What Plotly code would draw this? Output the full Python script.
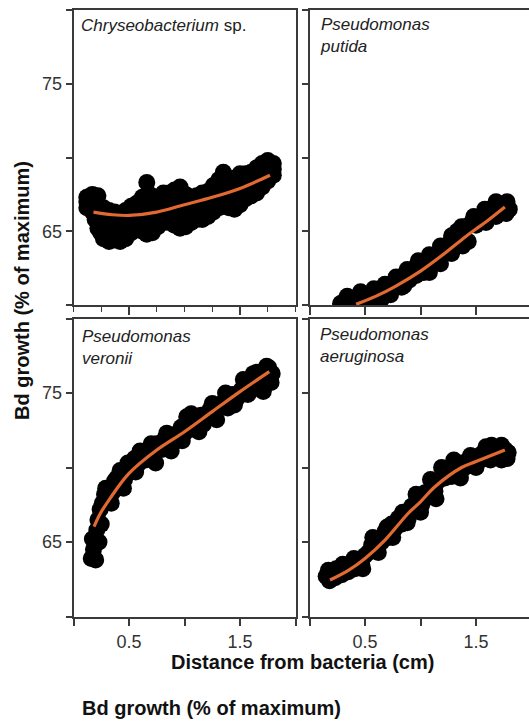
import plotly.graph_objects as go

# ---------------- data ----------------
# Chryseobacterium sp. (top-left)
chry_x = [0.12,0.12,0.12, 0.17,0.17,0.17, 0.22,0.22,0.22, 0.27,0.27,0.27, 0.32,0.32,0.32, 0.37,0.37,0.37,
          0.42,0.42,0.42, 0.47,0.47,0.47, 0.52,0.52,0.52, 0.57,0.57,0.57, 0.62,0.62,0.62, 0.66,0.66,0.66,
          0.71,0.71,0.71, 0.76,0.76,0.76, 0.81,0.81,0.81, 0.86,0.86,0.86, 0.91,0.91,0.91, 0.96,0.96,0.96,
          1.01,1.01,1.01, 1.06,1.06,1.06, 1.11,1.11,1.11, 1.16,1.16,1.16, 1.21,1.21,1.21, 1.26,1.26,1.26,
          1.31,1.31,1.31, 1.35,1.35,1.35, 1.40,1.40,1.40, 1.45,1.45,1.45, 1.50,1.50,1.50, 1.55,1.55,1.55,
          1.60,1.60,1.60, 1.65,1.65,1.65, 1.70,1.70,1.70, 1.75,1.75,1.75, 1.80,1.80,1.80,
          0.145,0.145, 0.195,0.195, 0.245,0.245, 0.295,0.295, 0.345,0.345, 0.395,0.395, 0.445,0.445,
          0.495,0.495, 0.545,0.545, 0.595,0.595, 0.64,0.64, 0.685,0.685, 0.735,0.735, 0.785,0.785,
          0.835,0.835, 0.885,0.885, 0.935,0.935, 0.985,0.985, 1.035,1.035, 1.085,1.085, 1.135,1.135,
          1.185,1.185, 1.235,1.235, 1.285,1.285, 1.33,1.33, 1.375,1.375, 1.425,1.425, 1.475,1.475,
          1.525,1.525, 1.575,1.575, 1.625,1.625, 1.675,1.675, 1.725,1.725, 1.775,1.775]
chry_y = [66.6,67.0,67.3, 66.3,66.9,67.5, 65.2,66.2,67.4, 64.5,65.5,66.6, 64.3,65.3,66.4, 64.4,65.4,66.3,
          64.3,65.3,66.2, 64.5,65.5,66.4, 64.9,65.8,66.7, 65.2,66.0,66.9, 65.0,66.0,67.3, 64.8,66.2,68.3,
          64.9,65.8,66.8, 65.3,66.2,67.3, 65.6,66.5,67.6, 65.6,66.6,67.6, 65.4,66.5,67.8, 65.2,66.4,68.0,
          65.3,66.4,67.5, 65.6,66.5,67.3, 65.8,66.6,67.4, 65.8,66.7,67.6, 66.0,66.9,67.7, 66.3,67.2,68.1,
          66.6,67.5,68.5, 66.7,67.8,69.0, 66.6,67.5,68.6, 66.5,67.6,68.6, 66.8,67.8,68.9, 67.2,68.0,68.9,
          67.4,68.2,69.0, 67.6,68.4,69.3, 68.0,68.8,69.6, 68.4,69.1,69.8, 68.8,69.2,69.6,
          66.7,67.2, 65.8,66.8, 64.9,66.0, 64.7,65.9, 64.8,65.8, 64.7,65.8, 64.9,65.9,
          65.1,66.1, 65.4,66.4, 65.5,66.5, 65.4,66.7, 65.3,67.5, 65.7,66.7, 66.0,67.0,
          66.0,67.1, 65.9,67.2, 65.8,67.2, 65.8,67.0, 65.9,66.9, 66.1,67.0, 66.2,67.1,
          66.4,67.3, 66.6,67.6, 66.9,67.9, 67.0,68.2, 67.1,68.1, 67.0,68.1, 67.2,68.3,
          67.5,68.4, 67.8,68.6, 68.0,68.8, 68.4,69.2, 68.7,69.4, 69.0,69.5]
chry_fit_x = [0.18,0.35,0.5,0.75,1.0,1.25,1.5,1.77]
chry_fit_y = [66.3,66.12,66.07,66.3,66.8,67.3,67.9,68.8]

# Pseudomonas putida (top-right)
put_x = [0.28,0.32,0.36,0.40,0.44,0.48,0.52,0.56,0.60,0.63,0.66,0.70,0.73,0.76,0.80,0.83,0.86,0.90,0.93,0.95,
         0.96,1.00,1.03,1.06,1.10,1.13,1.16,1.20,1.23,1.26,1.30,1.33,1.37,1.40,1.43,1.46,1.50,1.53,1.56,1.59,
         1.62,1.65,1.68,1.71,1.74,1.77,1.80,
         0.34,0.46,0.58,0.68,0.78,0.88,0.98,1.08,1.18,1.28,1.38,1.48,1.58,1.68,1.78,1.08,1.18,1.28,0.85,0.65]
put_y = [60.1,60.3,60.0,60.5,60.2,60.7,60.4,60.8,60.3,60.9,60.6,61.0,60.7,61.3,61.6,61.2,62.1,61.7,62.4,62.5,
         62.0,62.6,62.2,62.9,62.7,63.3,63.0,63.6,63.5,64.2,64.1,65.0,65.3,65.3,64.3,65.6,65.4,65.9,66.1,65.6,
         66.4,66.6,66.0,66.8,66.7,66.2,66.5,
         60.6,60.9,61.1,61.4,61.9,62.4,63.0,63.4,64.0,64.7,64.0,66.0,66.5,67.0,67.0,62.2,62.8,63.5,61.3,60.4]
put_fit_x = [0.42,0.6,0.77,1.0,1.2,1.4,1.5,1.6,1.76]
put_fit_y = [60.05,60.6,61.25,62.3,63.4,64.6,65.15,65.7,66.65]

# Pseudomonas veronii (bottom-left)
ver_x = [0.16,0.18,0.17,0.20,0.21,0.22,0.24,0.26,0.28,0.30,0.32,0.35,0.37,0.39,0.40,0.43,0.46,0.49,0.52,0.55,
         0.58,0.62,0.65,0.68,0.72,0.75,0.79,0.82,0.86,0.90,0.93,0.97,1.00,1.02,1.04,1.08,1.11,1.13,1.15,1.19,
         1.23,1.27,1.31,1.35,1.39,1.43,1.47,1.51,1.55,1.59,1.62,1.63,1.67,1.70,1.71,1.73,1.76,1.79,
         0.23,0.25,0.29,0.34,0.42,0.45,0.56,0.60,0.70,0.74,0.84,0.88,0.98,1.06,1.17,1.25,1.29,1.37,1.45,1.53,
         1.57,1.65,1.74,1.78]
ver_y = [63.9,64.5,65.2,63.8,65.8,66.5,67.2,67.6,68.2,67.7,68.6,68.3,69.1,69.3,68.9,69.6,69.2,70.3,69.8,70.6,
         70.2,70.9,70.5,71.0,70.8,71.6,71.2,71.9,71.5,72.2,71.8,72.7,72.3,73.4,72.8,73.1,72.5,72.4,73.5,73.3,
         73.9,73.5,74.2,74.4,74.0,74.9,74.6,75.2,75.5,75.1,76.3,75.8,75.5,76.2,75.1,75.9,76.7,76.3,
         65.0,66.2,68.6,67.6,69.8,68.6,69.7,71.1,71.6,70.3,72.3,71.1,71.8,73.6,72.9,74.3,73.2,75.0,74.2,75.9,
         74.9,76.4,76.8,75.7]
ver_fit_x = [0.185,0.24,0.33,0.5,0.75,1.0,1.25,1.5,1.764]
ver_fit_y = [66.03,66.9,67.93,69.6,71.17,72.4,73.75,75.09,76.43]

# Pseudomonas aeruginosa (bottom-right)
aer_x = [0.15,0.18,0.20,0.23,0.26,0.29,0.32,0.35,0.38,0.41,0.44,0.47,0.50,0.53,0.56,0.59,0.62,0.65,0.68,0.71,
         0.74,0.77,0.80,0.83,0.86,0.89,0.92,0.95,0.98,1.01,1.04,1.07,1.10,1.13,1.16,1.19,1.22,1.25,1.28,1.31,
         1.34,1.37,1.40,1.43,1.46,1.49,1.52,1.55,1.58,1.61,1.64,1.67,1.70,1.73,1.76,1.79,
         0.17,0.24,0.30,0.40,0.48,0.57,0.62,0.70,0.75,0.84,0.88,0.96,1.00,1.09,1.14,1.21,1.30,1.36,1.45,1.50,
         1.59,1.63,1.73,1.78]
aer_y = [62.7,62.4,63.0,62.6,63.1,62.8,63.3,63.0,63.4,63.2,63.7,63.5,64.1,64.3,64.8,64.4,65.2,65.0,65.7,65.3,
         66.2,65.9,66.6,66.2,67.0,66.6,67.4,67.1,67.9,67.5,68.3,68.0,68.7,68.4,69.1,70.0,69.3,69.8,69.4,70.1,
         69.6,70.3,70.0,70.5,70.2,70.7,70.4,70.9,70.6,71.2,71.5,70.8,71.3,70.5,71.2,71.0,
         63.1,63.2,63.5,63.9,63.2,65.3,64.3,66.0,65.3,67.0,66.3,68.2,67.0,69.2,67.9,69.6,70.5,69.3,70.8,70.0,
         71.4,70.5,71.5,70.6]
aer_fit_x = [0.185,0.35,0.5,0.68,0.89,1.0,1.13,1.37,1.5,1.76]
aer_fit_y = [62.45,63.1,63.9,65.13,66.93,67.7,68.71,70.0,70.4,71.17]

panel_names = ["<i>Chryseobacterium</i> sp.", "<i>Pseudomonas<br>putida</i>",
               "<i>Pseudomonas<br>veronii</i>", "<i>Pseudomonas<br>aeruginosa</i>"]
y_tickvals = [60, 65, 70, 75, 80]
y_ticktext = ["", "65", "", "75", ""]
x_tickvals = [0, 0.5, 1.0, 1.5, 2.0]
x_ticktext = ["", "0.5", "", "1.5", ""]

# ---------------- figure ----------------
W, H = 529, 721
FONT = "Liberation Sans, Arial, sans-serif"
AX = "#3a3a3a"
ORANGE = "#E2692F"

def px_x(p):
    return p / W

def px_y(p):
    return 1 - p / H

panels = [
    (chry_x, chry_y, chry_fit_x, chry_fit_y),
    (put_x, put_y, put_fit_x, put_fit_y),
    (ver_x, ver_y, ver_fit_x, ver_fit_y),
    (aer_x, aer_y, aer_fit_x, aer_fit_y),
]

fig = go.Figure()
for i, (sx, sy, fx, fy) in enumerate(panels):
    k = "" if i == 0 else str(i + 1)
    fig.add_trace(go.Scatter(x=sx, y=sy, mode="markers", xaxis="x" + k, yaxis="y" + k,
                             marker=dict(color="black", size=17, line=dict(width=0)),
                             showlegend=False, hoverinfo="skip"))
    fig.add_trace(go.Scatter(x=fx, y=fy, mode="lines", xaxis="x" + k, yaxis="y" + k,
                             line=dict(color=ORANGE, width=3.2, shape="spline"),
                             showlegend=False, hoverinfo="skip"))

left_dom = [px_x(73.5), px_x(295.5)]
right_dom = [px_x(309.5), 1.0]
top_dom = [px_y(305), px_y(10)]
bot_dom = [px_y(616.5), px_y(318.5)]
right_max = (W - 309.5) / 111.0

common_x = dict(showline=True, linecolor=AX, linewidth=1.5, ticks="outside", ticklen=8,
                tickwidth=1.5, tickcolor=AX, showgrid=False, zeroline=False,
                tickvals=x_tickvals, ticktext=x_ticktext,
                tickfont=dict(family=FONT, size=18, color="#333"), mirror=True)
common_y = dict(showline=True, linecolor=AX, linewidth=1.5, ticks="outside", ticklen=6,
                tickwidth=1.5, tickcolor=AX, showgrid=False, zeroline=False,
                range=[60, 80], tickvals=y_tickvals, ticktext=y_ticktext,
                tickfont=dict(family=FONT, size=18, color="#333"))

layout = dict(
    width=W, height=H, margin=dict(l=0, r=0, t=0, b=0),
    paper_bgcolor="white", plot_bgcolor="white",
    font=dict(family=FONT, color="#222"),
    xaxis=dict(common_x, domain=left_dom, range=[0, 2], anchor="y", showticklabels=False,
               minor=dict(dtick=0.25, ticks="outside", ticklen=5, tickcolor=AX, tickwidth=1.2)),
    yaxis=dict(common_y, domain=top_dom, anchor="x", mirror=True),
    xaxis2=dict(common_x, domain=right_dom, range=[0, right_max], anchor="y2", showticklabels=False),
    yaxis2=dict(common_y, domain=top_dom, anchor="x2", showticklabels=False, mirror=False),
    xaxis3=dict(common_x, domain=left_dom, range=[0, 2], anchor="y3"),
    yaxis3=dict(common_y, domain=bot_dom, anchor="x3", mirror=True),
    xaxis4=dict(common_x, domain=right_dom, range=[0, right_max], anchor="y4"),
    yaxis4=dict(common_y, domain=bot_dom, anchor="x4", showticklabels=False, mirror=False),
)
fig.update_layout(**layout)

label_pos = [(79, 26), (318, 35.5), (80, 347.5), (318, 345.5)]
annots = []
for name, (lx, ly) in zip(panel_names, label_pos):
    annots.append(dict(text=name, x=px_x(lx), y=px_y(ly), xref="paper", yref="paper",
                       xanchor="left", yanchor="middle", showarrow=False, align="left",
                       font=dict(family=FONT, size=17, color="#222")))
annots.append(dict(text="<b>Distance from bacteria (cm)</b>", x=px_x(302), y=px_y(662),
                   xref="paper", yref="paper", xanchor="center", yanchor="middle", showarrow=False,
                   font=dict(family=FONT, size=20, color="#111")))
annots.append(dict(text="<b>Bd growth (% of maximum)</b>", x=px_x(22), y=px_y(291),
                   xref="paper", yref="paper", xanchor="center", yanchor="middle", showarrow=False,
                   textangle=-90, font=dict(family=FONT, size=20, color="#111")))
annots.append(dict(text="<b>Bd growth (% of maximum)</b>", x=px_x(80), y=px_y(708),
                   xref="paper", yref="paper", xanchor="left", yanchor="middle", showarrow=False,
                   font=dict(family=FONT, size=20, color="#111")))
fig.update_layout(annotations=annots)

fig.write_html("out.html", config={"displayModeBar": False},
               post_script="document.body.style.margin='0px';document.body.style.overflow='hidden';")
